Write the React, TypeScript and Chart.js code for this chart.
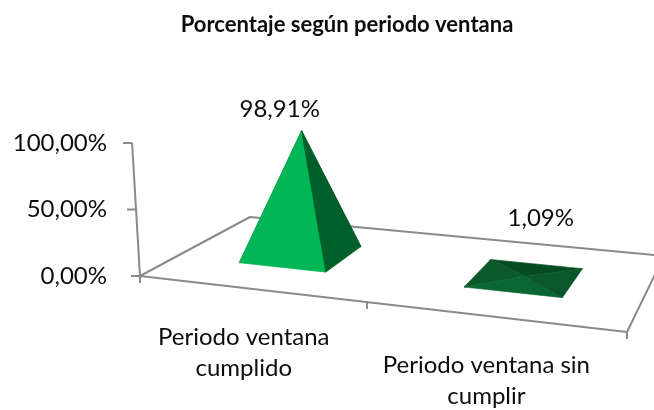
import React, { useEffect, useRef } from "react";
import { Chart, registerables } from "chart.js";

Chart.register(...registerables);

// ---------- data ----------
const chartTitle = "Porcentaje según periodo ventana";
const categories: string[][] = [
  ["Periodo ventana", "cumplido"],
  ["Periodo ventana sin", "cumplir"],
];
const values = [0.9891, 0.0109];
const yMin = 0;
const yMax = 1;
const yStep = 0.5;

// ---------- style ----------
const FONT = "Lato, 'Open Sans', sans-serif";
const TEXT = "#0d0d0d";
const LINE = "#8a8a8a";
const fmtPct = (v: number) => (v * 100).toFixed(2).replace(".", ",") + "%";

type P = { x: number; y: number; s: number };

function makeHomography(p00: number[], p10: number[], p11: number[], p01: number[]) {
  const [x0, y0] = p00, [x1, y1] = p10, [x2, y2] = p11, [x3, y3] = p01;
  const dx1 = x1 - x2, dx2 = x3 - x2, dx3 = x0 - x1 + x2 - x3;
  const dy1 = y1 - y2, dy2 = y3 - y2, dy3 = y0 - y1 + y2 - y3;
  const den = dx1 * dy2 - dx2 * dy1;
  const g = (dx3 * dy2 - dx2 * dy3) / den;
  const h = (dx1 * dy3 - dx3 * dy1) / den;
  const a = x1 - x0 + g * x1, b = x3 - x0 + h * x3, c = x0;
  const d = y1 - y0 + g * y1, e = y3 - y0 + h * y3, f = y0;
  return (u: number, v: number): P => {
    const w = g * u + h * v + 1;
    return { x: (a * u + b * v + c) / w, y: (d * u + e * v + f) / w, s: 1 / w };
  };
}

const lerpCol = (a: number[], b: number[], t: number) =>
  `rgb(${a.map((c, i) => Math.round(c + (b[i] - c) * t)).join(",")})`;

const pyramid3D = {
  id: "pyramid3D",
  afterDraw(chart: any) {
    const { ctx, chartArea: ca } = chart;
    const yScale = chart.scales.y;
    const H = makeHomography(
      [ca.left, ca.bottom],
      [ca.right, ca.bottom + 56],
      [ca.right + 37, ca.bottom - 20],
      [ca.left + 110, ca.bottom - 59]
    );
    const VX = ca.left + 160;
    const VD = 2680;
    const up = (p: { x: number; y: number }, h: number) => ({
      x: p.x + ((p.x - VX) * h) / VD,
      y: p.y - h,
    });

    ctx.save();
    // title
    ctx.fillStyle = TEXT;
    ctx.font = `bold 22px ${FONT}`;
    ctx.textAlign = "center";
    ctx.textBaseline = "alphabetic";
    ctx.fillText(chartTitle, 347, 32);

    // floor
    const FL = H(0, 0), FR = H(1, 0), BR = H(1, 1), BL = H(0, 1);
    ctx.strokeStyle = LINE;
    ctx.lineWidth = 2;
    ctx.lineJoin = "round";
    ctx.beginPath();
    ctx.moveTo(FL.x, FL.y);
    ctx.lineTo(FR.x, FR.y);
    ctx.lineTo(BR.x, BR.y);
    ctx.lineTo(BL.x, BL.y);
    ctx.closePath();
    ctx.stroke();

    // category tick marks on front edge
    const n = categories.length;
    for (let i = 0; i <= n; i++) {
      const p = H(i / n, 0);
      ctx.beginPath();
      ctx.moveTo(p.x, p.y);
      ctx.lineTo(p.x, p.y + 7);
      ctx.stroke();
    }

    // value axis (slanted)
    const top = up(FL, ca.bottom - yScale.getPixelForValue(yMax));
    ctx.beginPath();
    ctx.moveTo(FL.x, FL.y);
    ctx.lineTo(top.x, top.y);
    ctx.stroke();
    yScale.ticks.forEach((t: any) => {
      const p = up(FL, ca.bottom - yScale.getPixelForValue(t.value));
      ctx.beginPath();
      ctx.moveTo(p.x, p.y);
      ctx.lineTo(p.x - 9, p.y);
      ctx.stroke();
    });

    // pyramids
    const meta = chart.getDatasetMeta(0);
    const v0 = 0.3, v1 = 0.7;
    meta.data.forEach((bar: any, i: number) => {
      const u = (bar.x - ca.left) / ca.width;
      const hu = bar.width / 2 / ca.width;
      const A = H(u - hu, v0), B = H(u + hu, v0), C = H(u + hu, v1), D = H(u - hu, v1);
      const cen = H(u, 0.5);
      const h = (bar.base - bar.y) * cen.s;
      const apex = up(cen, h);
      const t = h / (h + 12);
      const faces: [P[], string][] = [
        [[D, C], "rgb(6,76,33)"],
        [[A, D], "rgb(11,88,43)"],
        [[A, B], lerpCol([12, 92, 45], [0, 191, 88], t)],
        [[B, C], lerpCol([10, 86, 42], [0, 97, 41], t)],
      ];
      faces.forEach(([[p, q], col]) => {
        ctx.beginPath();
        ctx.moveTo(p.x, p.y);
        ctx.lineTo(q.x, q.y);
        ctx.lineTo(apex.x, apex.y);
        ctx.closePath();
        ctx.fillStyle = col;
        ctx.strokeStyle = col;
        ctx.lineWidth = 0.6;
        ctx.fill();
        ctx.stroke();
      });

      // value label
      const back = H(u, 1);
      ctx.fillStyle = TEXT;
      ctx.font = `24px ${FONT}`;
      ctx.textAlign = "center";
      ctx.textBaseline = "alphabetic";
      const lx = cen.x + (cen.x - (ca.left + 290)) * 0.17;
      const ly = Math.min(apex.y - 14, back.y - 19);
      ctx.fillText(fmtPct(values[i]), lx, ly);

      // category label
      const fp = H(u, 0);
      categories[i].forEach((line, k) => {
        ctx.fillText(line, fp.x - 6, fp.y + 56 + k * 31.5);
      });
    });
    ctx.restore();
  },
};

export default function App() {
  const ref = useRef<HTMLCanvasElement | null>(null);
  useEffect(() => {
    if (!ref.current) return;
    const chart = new Chart(ref.current, {
      type: "bar",
      data: {
        labels: categories.map((c) => c.join(" ")),
        datasets: [
          {
            data: values,
            backgroundColor: "rgba(0,0,0,0)",
            borderWidth: 0,
            categoryPercentage: 0.8,
            barPercentage: 0.5,
          },
        ],
      },
      options: {
        responsive: false,
        maintainAspectRatio: false,
        animation: false,
        events: [],
        layout: { padding: { left: 8, right: 27, top: 143, bottom: 134 } },
        plugins: {
          legend: { display: false },
          title: { display: false },
          tooltip: { enabled: false },
        },
        scales: {
          x: { display: false },
          y: {
            min: yMin,
            max: yMax,
            afterFit: (scale: any) => {
              scale.width = 132;
            },
            grid: { display: false, drawTicks: false },
            border: { display: false },
            ticks: {
              stepSize: yStep,
              padding: 33,
              color: TEXT,
              font: { family: FONT, size: 24 },
              callback: (v: any) => fmtPct(Number(v)),
            },
          },
        },
      },
      plugins: [pyramid3D],
    });
    return () => chart.destroy();
  }, []);
  return (
    <div style={{ position: "fixed", left: 0, top: 0, width: 654, height: 410, background: "#fff" }}>
      <canvas ref={ref} width={654} height={410} style={{ width: 654, height: 410 }} />
    </div>
  );
}
